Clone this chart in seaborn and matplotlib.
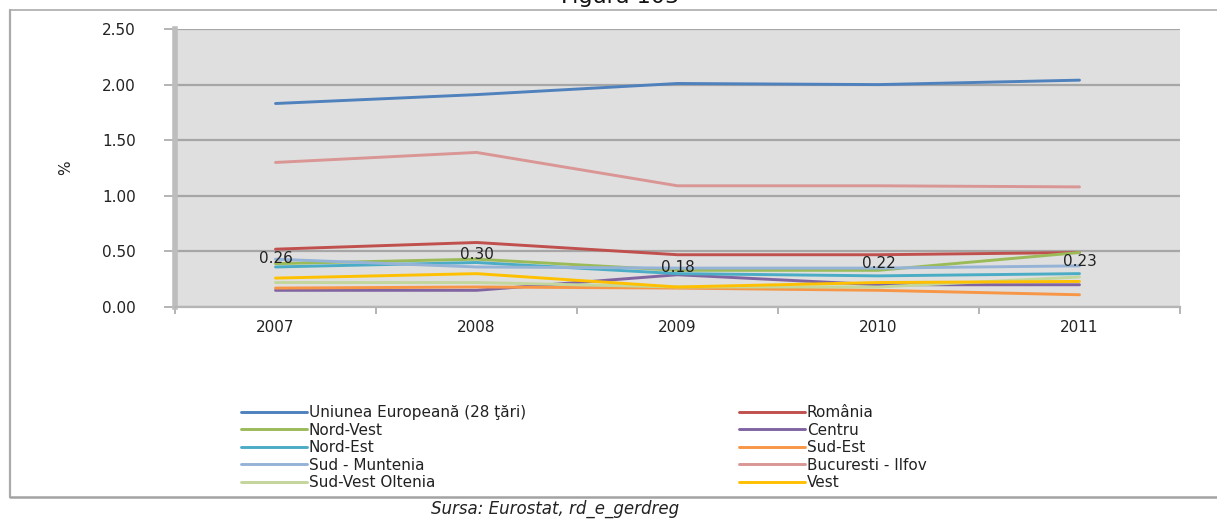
import numpy as np
import pandas as pd
import matplotlib
matplotlib.use("Agg")
import matplotlib.pyplot as plt
from matplotlib.lines import Line2D
import seaborn as sns

years = [2007, 2008, 2009, 2010, 2011]
series_names = ["Uniunea Europeană (28 ţări)", "România", "Nord-Vest", "Centru", "Nord-Est",
                "Sud-Est", "Sud - Muntenia", "Bucuresti - Ilfov", "Sud-Vest Oltenia", "Vest"]
ue = [1.83, 1.91, 2.01, 2.00, 2.04]
romania = [0.52, 0.58, 0.47, 0.47, 0.49]
nord_vest = [0.39, 0.43, 0.33, 0.33, 0.49]
centru = [0.15, 0.15, 0.29, 0.20, 0.20]
nord_est = [0.36, 0.40, 0.30, 0.28, 0.30]
sud_est = [0.17, 0.18, 0.17, 0.15, 0.11]
sud_muntenia = [0.43, 0.36, 0.35, 0.35, 0.37]
bucuresti = [1.30, 1.39, 1.09, 1.09, 1.08]
sv_oltenia = [0.22, 0.22, 0.18, 0.18, 0.27]
vest = [0.26, 0.30, 0.18, 0.22, 0.23]
y_ticks = [0.0, 0.5, 1.0, 1.5, 2.0, 2.5]

colors = ["#4F81BD", "#C0504D", "#9BBB59", "#8064A2", "#4BACC6",
          "#F79646", "#95B3D7", "#D99694", "#C3D69B", "#FFC000"]
all_vals = [ue, romania, nord_vest, centru, nord_est, sud_est, sud_muntenia, bucuresti, sv_oltenia, vest]

rows = []
for name, vals in zip(series_names, all_vals):
    for yr, v in zip(years, vals):
        rows.append({"An": yr, "Valoare": v, "Serie": name})
df = pd.DataFrame(rows)

sns.set_theme(style="white")
plt.rcParams['font.family'] = ['DejaVu Sans']

W, H = 1217, 519
fig = plt.figure(figsize=(W / 100, H / 100), dpi=100)
ax = fig.add_axes([175 / W, 1 - 307 / H, (1180 - 175) / W, (307 - 29) / H])
ax.set_facecolor("#DFDFDF")

palette = dict(zip(series_names, colors))
LW = 2.1
sns.lineplot(data=df, x="An", y="Valoare", hue="Serie", hue_order=series_names,
             palette=palette, linewidth=LW, ax=ax, legend=False, zorder=3)

ax.set_xlim(2006.5, 2011.5)
ax.set_ylim(0, 2.5)
ax.set_yticks(y_ticks)
ax.set_yticklabels([f"{t:.2f}" for t in y_ticks])
ax.set_xticks(years)
ax.set_xticklabels([str(y) for y in years])
ax.set_xticks(np.arange(2006.5, 2012.0, 1.0), minor=True)
ax.tick_params(axis="x", which="major", length=0, pad=9, labelsize=11, colors="#222222")
ax.tick_params(axis="x", which="minor", length=5, width=1.2, color="#A8A8A8", bottom=True)
ax.tick_params(axis="y", which="major", length=8, width=1.2, color="#A8A8A8", left=True,
               pad=20, labelsize=11, labelcolor="#222222")
ax.yaxis.grid(True, color="#A6A6A6", linewidth=1.6, zorder=1)
ax.set_axisbelow(True)
for s in ["top", "right"]:
    ax.spines[s].set_visible(False)
ax.spines["left"].set_color("#BDBDBD")
ax.spines["left"].set_linewidth(4)
ax.spines["bottom"].set_color("#B5B5B5")
ax.spines["bottom"].set_linewidth(1.6)
ax.set_xlabel("")
ax.set_ylabel("%", fontsize=11, color="#222222")
ax.yaxis.set_label_coords((73 - 175) / (1180 - 175), (307 - 168) / (307 - 29))

# data labels for Vest
for yr, v in zip(years, vest):
    ax.annotate(f"{v:.2f}", xy=(yr, v), xytext=(0, 14), textcoords="offset points",
                ha="center", va="center", fontsize=11, color="#222222", zorder=5)

# legends (two columns, row-wise order)
handles = [Line2D([0], [0], color=c, lw=LW) for c in colors]
col1 = [0, 2, 4, 6, 8]
col2 = [1, 3, 5, 7, 9]
common = dict(frameon=False, fontsize=11, handlelength=4.3, handletextpad=0.15,
              labelspacing=0.17, borderpad=0, borderaxespad=0)
leg1 = fig.legend([handles[i] for i in col1], [series_names[i] for i in col1],
                  loc="upper left", bbox_to_anchor=(241 / W, 1 - 405 / H), **common)
leg2 = fig.legend([handles[i] for i in col2], [series_names[i] for i in col2],
                  loc="upper left", bbox_to_anchor=(739 / W, 1 - 405 / H), **common)
for leg in (leg1, leg2):
    for t in leg.get_texts():
        t.set_color("#222222")

# frame lines
fig.add_artist(Line2D([10 / W, 10 / W], [1 - 10 / H, 1 - 497 / H], color="#ABABAB", lw=1.6))
fig.add_artist(Line2D([10 / W, 1.0], [1 - 10 / H, 1 - 10 / H], color="#ABABAB", lw=1.2))
fig.add_artist(Line2D([10 / W, 1.0], [1 - 497 / H, 1 - 497 / H], color="#A3A3A3", lw=1.8))

fig.text(620 / W, 1 - 3 / H, "Figura 103", ha="center", va="baseline", fontsize=16, color="#111111")
fig.text(555 / W, 1 - 509 / H, "Sursa: Eurostat, rd_e_gerdreg", ha="center", va="center",
         fontsize=12, style="italic", color="#222222")

fig.savefig("out.png", dpi=100, facecolor="white")
